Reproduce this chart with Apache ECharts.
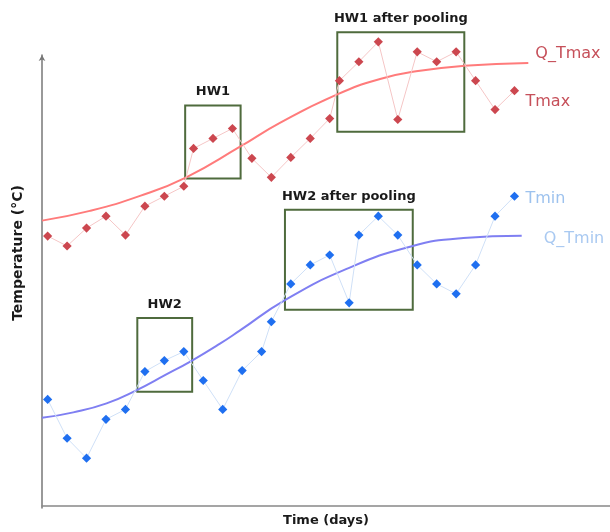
<!DOCTYPE html>
<html>
<head>
<meta charset="utf-8">
<script src="https://cdn.jsdelivr.net/npm/echarts@6/dist/echarts.min.js"></script>
<style>html,body{margin:0;padding:0;background:#fff}#c{width:610px;height:532px}</style>
</head>
<body>
<div id="c"></div>
<script>
// Daily points (x = day position, y = temperature)
var tmaxX = [0,1,2,3,4,5,6,7,7.5,8.5,9.5,10.5,11.5,12.5,13.5,14.5,15,16,17,18,19,20,21,22,23,24];
var tmaxY = [27.1,26.1,27.9,29.1,27.2,30.1,31.1,32.1,35.9,36.9,37.9,34.9,33.0,35.0,36.9,38.9,42.7,44.6,46.6,38.8,45.6,44.6,45.6,42.7,39.8,41.7];
var tminX = [0,1,2,3,4,5,6,7,8,9,10,11,11.5,12.5,13.5,14.5,15.5,16,17,18,19,20,21,22,23,24];
var tminY = [10.7,6.8,4.8,8.7,9.7,13.5,14.6,15.5,12.6,9.7,13.6,15.5,18.5,22.3,24.2,25.2,20.4,27.2,29.1,27.2,24.2,22.3,21.3,24.2,29.1,31.1];
// Threshold curves
var qTmaxX = [-0.29,2.17,4.75,7.10,9.89,11.94,14.86,17.09,19.14,21.42,24.71];
var qTmaxY = [28.65,29.63,31.13,32.97,36.07,38.47,41.3,42.87,43.7,44.2,44.47];
var qTminX = [-0.29,1.32,3.03,4.58,6.03,7.40,8.86,9.89,12.2,15.37,18.63,21.37,24.37];
var qTminY = [8.85,9.4,10.3,11.63,13.13,14.58,16.3,17.63,20.67,23.8,26.03,26.9,27.13];
// Heat-wave boxes
var boxNames = ['HW1','HW1 after pooling','HW2','HW2 after pooling'];
var boxX0 = [7.07,14.89,4.61,12.2];
var boxX1 = [9.92,21.42,7.43,18.77];
var boxYTop = [40.2,47.57,18.87,29.73];
var boxYBottom = [32.87,37.57,11.47,19.7];

function zip(xs, ys){ return xs.map(function(x,i){ return [x, ys[i]]; }); }

var areas = boxNames.map(function(n,i){
  return [{name:n, coord:[boxX0[i], boxYTop[i]]}, {coord:[boxX1[i], boxYBottom[i]]}];
});

var chart = echarts.init(document.getElementById('c'), null, {renderer:'canvas'});
chart.setOption({
  animation:false,
  grid:[
    {left:42, right:0, top:0, bottom:24},
    {left:42, right:0, top:55, bottom:24}
  ],
  xAxis:[
    {gridIndex:0, type:'value', min:-0.29, max:28.91,
     name:'Time (days)', nameLocation:'middle', nameGap:8,
     nameTextStyle:{color:'#1a1a1a', fontSize:13, fontWeight:'bold', fontFamily:'DejaVu Sans'},
     axisLine:{show:true, onZero:false, lineStyle:{color:'#888', width:1.5}},
     axisTick:{show:false}, axisLabel:{show:false}, splitLine:{show:false}},
    {gridIndex:1, type:'value', min:0, max:1, show:false}
  ],
  yAxis:[
    {gridIndex:0, type:'value', min:0, max:50.8,
     name:'Temperature (°C)', nameLocation:'middle', nameGap:17, nameRotate:90,
     nameTextStyle:{color:'#1a1a1a', fontSize:14, fontWeight:'bold', fontFamily:'DejaVu Sans'},
     axisLine:{show:false}, axisTick:{show:false}, axisLabel:{show:false}, splitLine:{show:false}},
    {gridIndex:1, type:'value', min:0, max:1,
     axisLine:{show:true, onZero:false, symbol:['none','arrow'], symbolSize:[5,6], lineStyle:{color:'#777', width:1.5}},
     axisTick:{show:false}, axisLabel:{show:false}, splitLine:{show:false}}
  ],
  series:[
    {name:'Tmax', type:'line', data:zip(tmaxX,tmaxY), z:3,
     symbol:'rect', symbolRotate:45, symbolSize:6.5,
     itemStyle:{color:'#cc474f'}, lineStyle:{color:'#f5c6c6', width:1},
     endLabel:{show:true, formatter:'Tmax', distance:0, offset:[11,11], color:'#c6505a', fontSize:16, fontFamily:'DejaVu Sans'},
     markArea:{silent:true,
       itemStyle:{color:'rgba(0,0,0,0)', borderColor:'#4f6b3d', borderWidth:2},
       label:{show:true, position:'top', distance:6, color:'#1a1a1a', fontSize:13, fontWeight:'bold', fontFamily:'DejaVu Sans'},
       data:areas}
    },
    {name:'Tmin', type:'line', data:zip(tminX,tminY), z:3,
     symbol:'rect', symbolRotate:45, symbolSize:6.5,
     itemStyle:{color:'#1f6ff0'}, lineStyle:{color:'#cfe0f7', width:1},
     endLabel:{show:true, formatter:'Tmin', distance:0, offset:[11,3], color:'#9dc2ee', fontSize:16, fontFamily:'DejaVu Sans'}
    },
    {name:'Q_Tmax', type:'line', data:zip(qTmaxX,qTmaxY), z:2, smooth:true, showSymbol:false,
     lineStyle:{color:'#ff7b7b', width:2},
     endLabel:{show:true, formatter:'Q_Tmax', distance:0, offset:[7,-9], color:'#c6505a', fontSize:16, fontFamily:'DejaVu Sans'}
    },
    {name:'Q_Tmin', type:'line', data:zip(qTminX,qTminY), z:2, smooth:true, showSymbol:false,
     lineStyle:{color:'#7f7ff2', width:2},
     endLabel:{show:true, formatter:'Q_Tmin', distance:0, offset:[22,3], color:'#a9c9f1', fontSize:16, fontFamily:'DejaVu Sans'}
    }
  ]
});
</script>
</body>
</html>
